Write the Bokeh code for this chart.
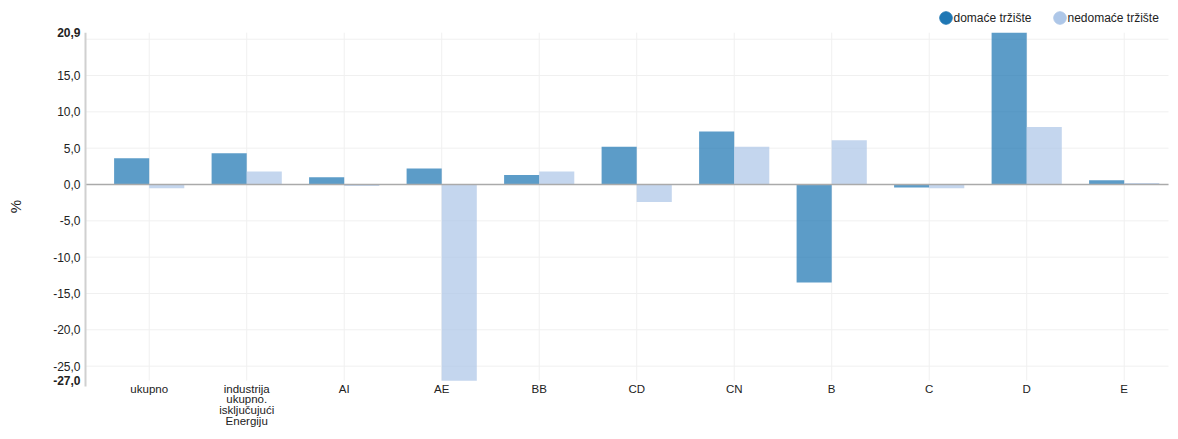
import math
from bokeh.plotting import figure
from bokeh.models import ColumnDataSource
from bokeh.core.properties import value
from bokeh.embed import file_html
from bokeh.resources import INLINE

categories = ["ukupno", "industrija\nukupno.\nisključujući\nEnergiju", "AI", "AE", "BB",
              "CD", "CN", "B", "C", "D", "E"]
domace = [3.6, 4.3, 1.0, 2.2, 1.3, 5.2, 7.3, -13.5, -0.4, 20.9, 0.6]
nedomace = [-0.5, 1.8, -0.2, -27.0, 1.8, -2.4, 5.2, 6.1, -0.5, 7.9, 0.2]
series_names = ["domaće tržište", "nedomaće tržište"]
y_ticks = [-25, -20, -15, -10, -5, 0, 5, 10, 15]
grid_ticks = [-25, -20, -15, -10, -5, 0, 5, 10, 15, 20]
y_min, y_max = -27.0, 20.9

FONT = value("Liberation Sans")
DARK = "#1f77b4"
LIGHT = "#aec7e8"
TXT = "#222222"

W, H = 1170, 431
# pixel layout (picture coordinates)
CAT0, CATSTEP = 148.7, 97.5        # centre of first category, spacing
ZERO_PX, UNIT_PX = 184.0, 7.265    # y of zero line, px per unit
OX, OY = 0, 0                      # canvas origin in the picture


def xd(px):
    return (px - CAT0) / CATSTEP


def yd(py):
    return (ZERO_PX - py) / UNIT_PX


p = figure(width=W, height=H, output_backend="svg", toolbar_location=None,
           x_range=(xd(OX), xd(OX + W)), y_range=(yd(OY + H), yd(OY)),
           min_border=0)
p.outline_line_color = None
p.xaxis.visible = False
p.yaxis.visible = False
p.xgrid.visible = False
p.ygrid.visible = False

idx = list(range(len(categories)))
x_left, x_right = xd(85), xd(1168)

# grid lines
p.segment(x0=[x_left] * len(grid_ticks), x1=[x_right] * len(grid_ticks),
          y0=grid_ticks, y1=grid_ticks, line_color="#f0f0f0", line_width=1)
p.segment(x0=idx, x1=idx, y0=[y_min] * len(idx), y1=[y_max] * len(idx),
          line_color="#f0f0f0", line_width=1)

src = ColumnDataSource(dict(
    x1=[i - 0.18 for i in idx], x2=[i + 0.18 for i in idx],
    d=domace, n=nedomace))
p.vbar(x="x1", top="d", bottom=0, width=0.36, source=src,
       fill_color=DARK, fill_alpha=0.73, line_color=None)
p.vbar(x="x2", top="n", bottom=0, width=0.36, source=src,
       fill_color=LIGHT, fill_alpha=0.73, line_color=None)

# zero line and y axis line
p.segment(x0=[x_left], x1=[x_right], y0=[0], y1=[0], line_color="#aaaaaa", line_width=1.5)
p.segment(x0=[x_left], x1=[x_left], y0=[y_max], y1=[y_min - 0.8],
          line_color="#d0d0d0", line_width=2)

# y tick labels
lab_x = xd(80)
p.text(x=[lab_x] * len(y_ticks), y=y_ticks,
       text=[f"{t:.1f}".replace(".", ",") for t in y_ticks],
       text_align="right", text_baseline="middle", text_font=FONT,
       text_font_size="12px", text_color=TXT)
p.text(x=[lab_x, lab_x], y=[y_max, y_min],
       text=[f"{v:.1f}".replace(".", ",") for v in (y_max, y_min)],
       text_align="right", text_baseline="middle", text_font=FONT,
       text_font_size="12px", text_font_style="bold", text_color=TXT)
p.text(x=[xd(15)], y=[yd(206)], text=["%"], angle=math.pi / 2,
       text_align="center", text_baseline="middle", text_font=FONT,
       text_font_size="15px", text_color=TXT)

# category labels
p.text(x=idx, y=[yd(382)] * len(idx), text=categories,
       text_align="center", text_baseline="top", text_font=FONT,
       text_font_size="11.5px", text_color=TXT, text_line_height=0.9)

# legend
leg_y = yd(17.5)
p.scatter(x=[xd(945.5), xd(1059.5)], y=[leg_y, leg_y], marker="circle", size=12.5,
          fill_color=[DARK, LIGHT], line_color=[DARK, LIGHT])
p.text(x=[xd(953), xd(1067)], y=[leg_y, leg_y], text=series_names,
       text_align="left", text_baseline="middle", text_font=FONT,
       text_font_size="12px", text_color=TXT)

open("out.html", "w").write(file_html(p, INLINE))
